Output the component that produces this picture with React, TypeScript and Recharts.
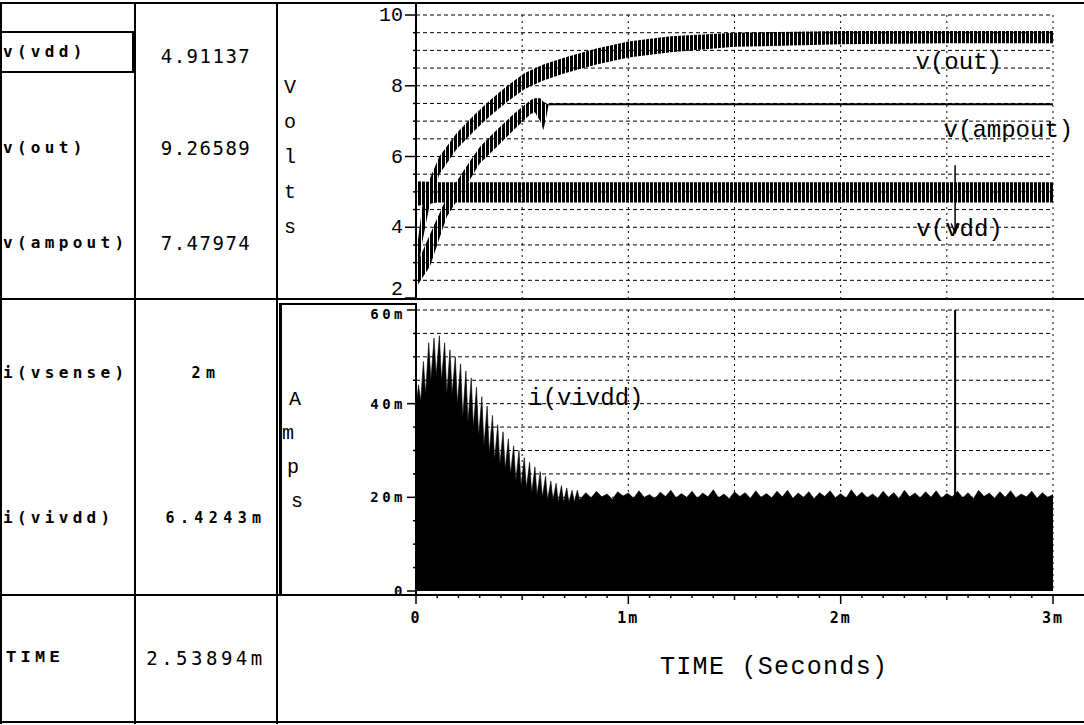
import { Area, CartesianGrid, ComposedChart, ReferenceDot, ReferenceLine, XAxis, YAxis } from 'recharts';

// probe readout table (left side)
const VOLT_PROBES = ['v(vdd)', 'v(out)', 'v(ampout)'];
const VOLT_READINGS = ['4.91137', '9.26589', '7.47974'];
const AMP_PROBES = ['i(vsense)', 'i(vivdd)'];
const AMP_READINGS = ['2m', '6.4243m'];
const CURSOR_T = 2.53894;
const CURSOR_LABEL = '2.53894m';

// axes
const TIME_TICKS = [0, 1, 2, 3];
const TIME_LABELS = ['0', '1m', '2m', '3m'];
const TIME_GRID = [0.5, 1, 1.5, 2, 2.5, 3];
const VOLT_TICKS = [2, 4, 6, 8, 10];
const VOLT_GRID = [2.5, 3, 3.5, 4, 4.5, 5, 5.5, 6, 6.5, 7, 7.5, 8, 8.5, 9, 9.5, 10];
const AMP_TICKS = [0, 20, 40, 60];
const AMP_LABELS = ['0', '20m', '40m', '60m'];
const AMP_GRID = [5, 10, 15, 20, 25, 30, 35, 40, 45, 50, 55, 60];

// ripple bands: [time ms, low V, high V]
const V_OUT = [
    [0, 2.4, 3.2], [0.03, 3.6, 4.6], [0.06, 4.5, 5.3], [0.11, 5.5, 6.0], [0.19, 6.2, 6.65],
    [0.27, 6.7, 7.15], [0.35, 7.15, 7.6], [0.43, 7.55, 8.0], [0.51, 7.9, 8.35], [0.6, 8.15, 8.6],
    [0.7, 8.35, 8.8], [0.85, 8.6, 9.05], [1.0, 8.8, 9.25], [1.2, 8.95, 9.4], [1.5, 9.1, 9.5],
    [2.0, 9.17, 9.55], [2.5, 9.2, 9.55], [3.0, 9.2, 9.55],
];
const V_AMPOUT = [
    [0, 2.3, 2.9], [0.066, 2.9, 3.8], [0.145, 4.3, 4.85], [0.224, 5.05, 5.6], [0.3, 5.8, 6.27],
    [0.38, 6.27, 6.75], [0.46, 6.75, 7.2], [0.54, 7.2, 7.6], [0.56, 7.25, 7.65], [0.585, 7.0, 7.65],
    [0.6, 6.75, 7.55], [0.615, 7.15, 7.5], [0.625, 7.48, 7.48],
];
const V_AMPOUT_FLAT = [[0.625, 7.48], [3.0, 7.48]];
const V_VDD = [
    [0, 4.6, 5.3], [0.1, 4.7, 5.27], [1.5, 4.7, 5.27], [3.0, 4.7, 5.27],
];

// i(vivdd): [time ms, current mA]
const I_VIVDD = [
    [0, 39], [0.012, 44], [0.022, 40.5], [0.035, 49], [0.045, 42], [0.06, 53], [0.07, 45],
    [0.085, 54], [0.095, 46], [0.11, 54.5], [0.12, 45], [0.135, 53], [0.145, 42], [0.16, 51.5],
    [0.17, 42], [0.185, 50], [0.195, 40], [0.21, 48.5], [0.22, 37], [0.235, 47], [0.245, 36],
    [0.26, 45.5], [0.27, 35], [0.285, 43.5], [0.295, 33], [0.31, 41.5], [0.32, 31], [0.335, 39.5],
    [0.345, 29.5], [0.36, 37.5], [0.37, 28], [0.385, 35.5], [0.395, 27], [0.41, 34], [0.42, 26],
    [0.435, 32.5], [0.445, 25], [0.46, 31], [0.47, 23.5], [0.485, 30], [0.495, 22.5], [0.51, 28.5],
    [0.52, 22], [0.535, 27.5], [0.545, 21], [0.56, 26.5], [0.57, 20.5], [0.585, 25.5], [0.595, 20],
    [0.61, 24.5], [0.62, 19.5], [0.635, 23.5], [0.645, 19.5], [0.66, 23], [0.67, 19], [0.685, 22.5],
    [0.695, 19], [0.71, 22], [0.72, 19], [0.735, 21.5], [0.745, 19], [0.76, 21.5], [0.77, 19.5],
    [0.8, 21.0], [0.825, 19.9], [0.85, 21.3], [0.875, 20.1], [0.9, 20.7], [0.925, 19.6], [0.95, 21.2],
    [0.975, 20.3], [1.0, 20.9], [1.025, 19.8], [1.05, 21.4], [1.075, 20.0], [1.1, 20.6], [1.125, 19.7],
    [1.15, 21.1], [1.175, 20.2], [1.2, 21.5], [1.225, 19.9], [1.25, 20.8], [1.275, 20.0], [1.3, 21.3],
    [1.325, 19.8], [1.35, 20.9], [1.375, 20.1], [1.4, 21.6], [1.425, 19.9], [1.45, 20.7], [1.475, 19.7],
    [1.5, 21.2], [1.525, 20.2], [1.55, 21.0], [1.575, 19.8], [1.6, 21.4], [1.625, 20.0], [1.65, 20.8],
    [1.675, 19.9], [1.7, 21.3], [1.725, 20.1], [1.75, 21.5], [1.775, 19.8], [1.8, 20.9], [1.825, 20.0],
    [1.85, 21.2], [1.875, 19.7], [1.9, 21.0], [1.925, 20.2], [1.95, 21.4], [1.975, 19.9], [2.0, 20.8],
    [2.025, 19.8], [2.05, 21.6], [2.075, 20.1], [2.1, 21.1], [2.125, 19.9], [2.15, 20.7], [2.175, 19.8],
    [2.2, 21.3], [2.225, 20.0], [2.25, 21.0], [2.275, 19.7], [2.3, 21.5], [2.325, 20.1], [2.35, 20.9],
    [2.375, 19.9], [2.4, 21.2], [2.425, 20.0], [2.45, 21.4], [2.475, 19.8], [2.5, 20.8], [2.525, 20.1],
    [2.55, 21.3], [2.575, 19.9], [2.6, 21.0], [2.625, 19.7], [2.65, 21.5], [2.675, 20.2], [2.7, 20.9],
    [2.725, 19.8], [2.75, 21.2], [2.775, 20.0], [2.8, 21.4], [2.825, 19.9], [2.85, 20.7], [2.875, 20.1],
    [2.9, 21.3], [2.925, 19.8], [2.95, 21.0], [2.975, 20.0], [3.0, 20.6],
];

const toBand = (rows: number[][]) => rows.map(([t, lo, hi]) => ({ t, r: [lo, hi] }));
const vOutData = toBand(V_OUT);
const vAmpData = toBand(V_AMPOUT);
const vAmpFlatData = V_AMPOUT_FLAT.map(([t, v]) => ({ t, v }));
const vVddData = toBand(V_VDD);
const iData = I_VIVDD.map(([t, i]) => ({ t, i }));

const TIME_MINOR = Array.from({ length: 31 }, (_, k) => k / 10);
const VOLT_ALL = [2, ...VOLT_GRID];
const AMP_ALL = [0, ...AMP_GRID];

const MONO = 'Liberation Mono, DejaVu Sans Mono, monospace';
const SANS_MONO = 'DejaVu Sans Mono, monospace';

function VoltTick({ x, y, payload }: any) {
    const v = payload.value;
    const major = VOLT_TICKS.includes(v);
    // the lowest label sits right on the panel divider, lift it a little
    const shift = v === 2 ? -9 : 0;
    return (
        <g>
            <line x1={x - (major ? 11 : 3)} x2={x} y1={y} y2={y} stroke="#000" strokeWidth={1.5} />
            {major && (
                <text x={x - 13} y={y + 6 + shift} textAnchor="end" fontFamily={MONO} fontSize={20} fill="#000">{v}</text>
            )}
        </g>
    );
}

function AmpTick({ x, y, payload }: any) {
    const idx = AMP_TICKS.indexOf(payload.value);
    return (
        <g>
            <line x1={x - (idx >= 0 ? 9 : 3)} x2={x} y1={y} y2={y} stroke="#000" strokeWidth={1.5} />
            {idx >= 0 && (
                <text x={x - 10} y={y + (idx === 3 ? 9 : 5)} textAnchor="end" fontFamily={SANS_MONO} fontWeight="bold"
                    fontSize={14} letterSpacing={3.5} fill="#000">{AMP_LABELS[idx]}</text>
            )}
        </g>
    );
}

function TimeTick({ x, y, payload }: any) {
    const v = payload.value;
    const idx = TIME_TICKS.findIndex((t) => Math.abs(t - v) < 1e-6);
    const half = TIME_GRID.some((t) => Math.abs(t - v) < 1e-6);
    return (
        <g>
            <line x1={x} x2={x} y1={y + 3} y2={y + (idx >= 0 ? 13 : half ? 9 : 7)} stroke="#000" strokeWidth={1.5} />
            {idx >= 0 && (
                <text x={x} y={y + 32} textAnchor="middle" fontFamily={SANS_MONO} fontWeight="bold"
                    fontSize={15} letterSpacing={2} fill="#000">{TIME_LABELS[idx]}</text>
            )}
        </g>
    );
}

const chartLabel = (value: string) => ({
    value, position: 'center' as const, fill: '#000', fontSize: 24, fontFamily: MONO,
});

function VoltsChart() {
    return (
        <ComposedChart width={754} height={300} margin={{ top: 15, right: 31, bottom: 2, left: 0 }}>
            <defs>
                <pattern id="ripple" width="4" height="6" patternUnits="userSpaceOnUse">
                    <rect x="0" y="0" width="3" height="6" fill="#000" />
                </pattern>
            </defs>
            <XAxis type="number" dataKey="t" domain={[0, 3]} hide allowDataOverflow />
            <YAxis type="number" domain={[2, 10]} ticks={VOLT_ALL} interval={0} width={86}
                axisLine={false} tickLine={false} tickSize={0} tickMargin={0}
                tick={(p: any) => <VoltTick {...p} />} allowDataOverflow />
            <CartesianGrid vertical={false} horizontalValues={VOLT_GRID} stroke="#000" strokeDasharray="4 3" />
            <CartesianGrid horizontal={false} verticalValues={TIME_GRID} stroke="#000" strokeDasharray="2 4" />
            <Area data={vVddData} dataKey="r" type="linear" stroke="none"
                fill="url(#ripple)" fillOpacity={1} isAnimationActive={false} />
            <Area data={vAmpData} dataKey="r" type="linear" stroke="none"
                fill="url(#ripple)" fillOpacity={1} isAnimationActive={false} />
            <Area data={vAmpFlatData} dataKey="v" type="linear" stroke="#000" strokeWidth={2}
                fill="none" isAnimationActive={false} />
            <Area data={vOutData} dataKey="r" type="linear" stroke="none"
                fill="url(#ripple)" fillOpacity={1} isAnimationActive={false} />
            <ReferenceLine segment={[{ x: CURSOR_T, y: 5.75 }, { x: CURSOR_T, y: 3.85 }]} stroke="#000" strokeWidth={1.5} />
            <ReferenceDot x={CURSOR_T} y={3.85} r={0} isFront
                shape={(p: any) => (
                    <polyline points={`${p.cx - 4},${p.cy - 9} ${p.cx},${p.cy} ${p.cx + 4},${p.cy - 9}`}
                        fill="none" stroke="#000" strokeWidth={1.5} />
                )} />
            <ReferenceDot x={2.556} y={8.72} r={0} label={chartLabel('v(out)')} />
            <ReferenceDot x={2.79} y={6.8} r={0} label={chartLabel('v(ampout)')} />
            <ReferenceDot x={2.56} y={4.0} r={0} label={chartLabel('v(vdd)')} />
        </ComposedChart>
    );
}

function AmpsChart() {
    return (
        <ComposedChart width={754} height={425} margin={{ top: 10, right: 31, bottom: 0, left: 0 }}>
            <XAxis type="number" dataKey="t" domain={[0, 3]} ticks={TIME_MINOR} interval={0} height={134}
                axisLine={false} tickLine={false} tickSize={0} tickMargin={0}
                tick={(p: any) => <TimeTick {...p} />} allowDataOverflow />
            <YAxis type="number" domain={[0, 60]} ticks={AMP_ALL} interval={0} width={86}
                axisLine={false} tickLine={false} tickSize={0} tickMargin={0}
                tick={(p: any) => <AmpTick {...p} />} allowDataOverflow />
            <CartesianGrid vertical={false} horizontalValues={AMP_GRID} stroke="#000" strokeDasharray="4 3" />
            <CartesianGrid horizontal={false} verticalValues={TIME_GRID} stroke="#000" strokeDasharray="2 4" />
            <Area data={iData} dataKey="i" type="linear" baseValue={0} stroke="#000" strokeWidth={0.6}
                fill="#000" fillOpacity={1} isAnimationActive={false} />
            <ReferenceLine x={CURSOR_T} stroke="#000" strokeWidth={2} />
            <ReferenceDot x={0.8} y={41.6} r={0} label={chartLabel('i(vivdd)')} />
        </ComposedChart>
    );
}

const line = (left: number, top: number, width: number, height: number) => (
    <div style={{ position: 'absolute', left, top, width, height, background: '#000' }} />
);

const cellText = (text: string, left: number, width: number, cy: number, style: React.CSSProperties) => (
    <div style={{
        position: 'absolute', left, width, top: cy - 12, height: 24, lineHeight: '24px',
        whiteSpace: 'nowrap', color: '#000', ...style,
    }}>{text}</div>
);

const LABEL_STYLE: React.CSSProperties = { fontFamily: SANS_MONO, fontWeight: 'bold', fontSize: 16, letterSpacing: 4.3 };
const VALUE_STYLE: React.CSSProperties = { fontFamily: SANS_MONO, fontSize: 19, letterSpacing: 1.5, textAlign: 'center' };
const AMP_VALUE_STYLE: React.CSSProperties = { fontFamily: SANS_MONO, fontWeight: 'bold', fontSize: 15, letterSpacing: 5.4, textAlign: 'center' };

export default function App() {
    const voltRows = [52, 148, 243];
    const ampRows = [373, 518];
    const volts = ['V', 'o', 'l', 't', 's'];
    const amps = ['A', 'm', 'p', 's'];
    const ampsX = [295, 288, 293, 297];
    return (
        <div style={{ position: 'fixed', left: 0, top: 0, width: 1084, height: 725, background: '#fff', overflow: 'hidden' }}>
            <div style={{ position: 'absolute', left: 330, top: 0 }}><VoltsChart /></div>
            <div style={{ position: 'absolute', left: 330, top: 300 }}><AmpsChart /></div>

            {/* table frame */}
            {line(0, 2, 1084, 2)}
            {line(0, 2, 2, 722)}
            {line(134, 2, 2, 722)}
            {line(276, 2, 2, 722)}
            {line(0, 298, 1084, 2)}
            {line(0, 594, 1084, 2)}
            {line(0, 721, 1084, 2)}
            {line(415, 3, 2, 296)}
            {line(415, 303, 2, 292)}
            <div style={{ position: 'absolute', left: 0, top: 31, width: 130, height: 38, border: '2px solid #000' }} />
            <div style={{ position: 'absolute', left: 279, top: 303, width: 133, height: 291, borderLeft: '3px solid #000', borderTop: '2px solid #000' }} />

            {VOLT_PROBES.map((p, k) => <div key={p}>{cellText(p, 3, 130, voltRows[k], LABEL_STYLE)}</div>)}
            {VOLT_READINGS.map((v, k) => <div key={v}>{cellText(v, 136, 140, voltRows[k] + (k === 0 ? 4 : 0), VALUE_STYLE)}</div>)}
            {AMP_PROBES.map((p, k) => <div key={p}>{cellText(p, 3, 130, ampRows[k], LABEL_STYLE)}</div>)}
            {AMP_READINGS.map((v, k) => (
                <div key={v}>{cellText(v, 136 + (k === 1 ? 10 : 0), 140, ampRows[k], AMP_VALUE_STYLE)}</div>
            ))}
            {cellText('TIME', 6, 120, 658, { fontFamily: MONO, fontWeight: 'bold', fontSize: 17, letterSpacing: 4.3 })}
            {cellText(CURSOR_LABEL, 136, 140, 658, { ...VALUE_STYLE, letterSpacing: 3.5 })}

            {volts.map((c, k) => (
                <div key={k} style={{ position: 'absolute', left: 280, width: 20, top: 76 + k * 35, lineHeight: '24px', textAlign: 'center', fontFamily: MONO, fontSize: 20 }}>{c}</div>
            ))}
            {amps.map((c, k) => (
                <div key={k} style={{ position: 'absolute', left: ampsX[k] - 10, width: 20, top: 388 + k * 34, lineHeight: '24px', textAlign: 'center', fontFamily: MONO, fontSize: 20 }}>{c}</div>
            ))}

            <div style={{ position: 'absolute', left: 660, top: 654, lineHeight: '28px', fontFamily: MONO, fontSize: 25, letterSpacing: 1.3, whiteSpace: 'nowrap' }}>TIME (Seconds)</div>
        </div>
    );
}
